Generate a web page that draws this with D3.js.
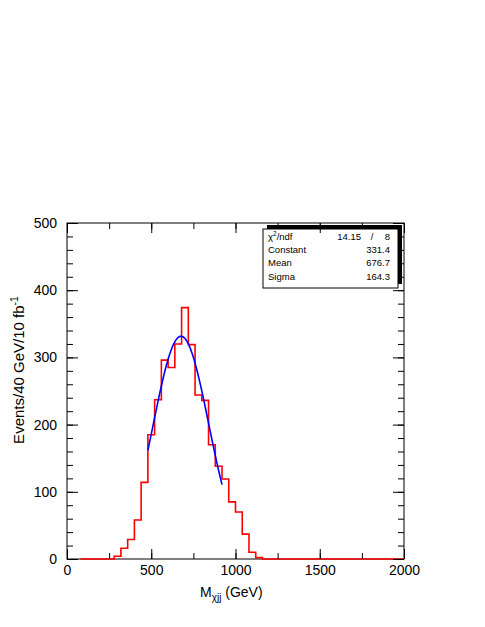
<!DOCTYPE html>
<html>
<head>
<meta charset="utf-8">
<script src="https://cdn.jsdelivr.net/npm/d3@7"></script>
<style>
  html, body { margin: 0; padding: 0; background: #ffffff; }
  svg { display: block; }
  text { font-family: "Liberation Sans", Arial, Helvetica, sans-serif; fill: #000; }
</style>
</head>
<body>
<svg id="chart" width="485" height="627"></svg>
<script>
// ---- data ----
const histLow = 80;          // first bin low edge (GeV)
const binWidth = 40;         // GeV
const binCounts = [
  0, 0, 0, 0, 0,
  4, 16, 29, 58, 114, 185, 237, 296, 285, 320, 374, 319, 244, 236, 170, 138, 119, 85, 70, 37, 10, 2,
  0, 0, 0, 0, 0, 0, 0, 0, 0, 0, 0, 0, 0, 0, 0, 0, 0, 0, 0, 0, 0
];
const fitRange = [480, 920];
const fitConstant = 331.4, fitMean = 676.7, fitSigma = 164.3;
const statLabels = ["Constant", "Mean", "Sigma"];
const statValues = ["331.4", "676.7", "164.3"];
const chi2Value = "14.15", ndfValue = "8";
const xTicks = [0, 500, 1000, 1500, 2000];
const yTicks = [0, 100, 200, 300, 400, 500];
const xDomain = [0, 2000];
const yDomain = [0, 500];

// ---- layout ----
const L = 67, R = 404, T = 223, B = 559;
const svg = d3.select("#chart");
const x = d3.scaleLinear().domain(xDomain).range([L, R]);
const y = d3.scaleLinear().domain(yDomain).range([B, T]);

const font = '"Liberation Sans", Arial, Helvetica, sans-serif';

// histogram
const pts = binCounts.map((c, i) => [histLow + i * binWidth, c]);
pts.push([histLow + binCounts.length * binWidth, binCounts[binCounts.length - 1]]);
const histLine = d3.line().x(d => x(d[0])).y(d => y(d[1])).curve(d3.curveStepAfter);

// fit curve (Gaussian from the fit parameters)
const gauss = v => fitConstant * Math.exp(-0.5 * Math.pow((v - fitMean) / fitSigma, 2));
const fitPts = d3.range(fitRange[0], fitRange[1] + 0.001, 4).map(v => [v, gauss(v)]);
const fitLine = d3.line().x(d => x(d[0])).y(d => y(d[1])).curve(d3.curveLinear);

// frame
svg.append("rect").attr("x", L).attr("y", T).attr("width", R - L).attr("height", B - T)
  .attr("fill", "none").attr("stroke", "#000").attr("stroke-width", 1);

svg.append("path").attr("d", histLine(pts)).attr("fill", "none")
  .attr("stroke", "#ff0000").attr("stroke-width", 1.6);
svg.append("path").attr("d", fitLine(fitPts)).attr("fill", "none")
  .attr("stroke", "#0000ff").attr("stroke-width", 1.6);

// stats box with shadow
const bx = 263, by = 229, bw = 135, bh = 59;
svg.append("rect").attr("x", bx + 4).attr("y", by - 4).attr("width", bw).attr("height", bh).attr("fill", "#000");
svg.append("rect").attr("x", bx).attr("y", by).attr("width", bw).attr("height", bh)
  .attr("fill", "#fff").attr("stroke", "#000").attr("stroke-width", 1);

// axes (ticks drawn inward, on all four sides)
function styleAxis(g) {
  g.select(".domain").remove();
  g.selectAll("line").attr("stroke", "#000").attr("stroke-width", 1);
  g.selectAll("text").style("font-family", font).style("font-size", "14px").attr("fill", "#000");
}
const xMinor = d3.range(0, 2001, 250);
const yMinor = d3.range(0, 501, 20);
const fmt = d3.format("d");

svg.append("g").attr("transform", `translate(0,${B})`)
  .call(d3.axisBottom(x).tickValues(xTicks).tickFormat(fmt).tickSizeInner(-10).tickSizeOuter(0).tickPadding(6))
  .call(styleAxis);
svg.append("g").attr("transform", `translate(0,${B})`)
  .call(d3.axisBottom(x).tickValues(xMinor).tickSizeInner(-6).tickSizeOuter(0).tickFormat(""))
  .call(styleAxis);
svg.append("g").attr("transform", `translate(0,${T})`)
  .call(d3.axisTop(x).tickValues(xTicks).tickSizeInner(-10).tickSizeOuter(0).tickFormat(""))
  .call(styleAxis);
svg.append("g").attr("transform", `translate(0,${T})`)
  .call(d3.axisTop(x).tickValues(xMinor).tickSizeInner(-6).tickSizeOuter(0).tickFormat(""))
  .call(styleAxis);

svg.append("g").attr("transform", `translate(${L},0)`)
  .call(d3.axisLeft(y).tickValues(yTicks).tickFormat(fmt).tickSizeInner(-11).tickSizeOuter(0).tickPadding(10))
  .call(styleAxis);
svg.append("g").attr("transform", `translate(${L},0)`)
  .call(d3.axisLeft(y).tickValues(yMinor).tickSizeInner(-6).tickSizeOuter(0).tickFormat(""))
  .call(styleAxis);
svg.append("g").attr("transform", `translate(${R},0)`)
  .call(d3.axisRight(y).tickValues(yTicks).tickSizeInner(-11).tickSizeOuter(0).tickFormat(""))
  .call(styleAxis);
svg.append("g").attr("transform", `translate(${R},0)`)
  .call(d3.axisRight(y).tickValues(yMinor).tickSizeInner(-6).tickSizeOuter(0).tickFormat(""))
  .call(styleAxis);

// stats text
const fs = 9.5;
const rowY = [239.5, 253, 266.3, 279.6];
const t0 = svg.append("text").attr("x", 268).attr("y", rowY[0]).style("font-size", fs + "px");
t0.append("tspan").text("χ");
t0.append("tspan").attr("dy", -4).style("font-size", "6.5px").text("2");
t0.append("tspan").attr("dy", 4).text("/ndf");
svg.append("text").attr("x", 361).attr("y", rowY[0]).attr("text-anchor", "end").style("font-size", fs + "px").text(chi2Value);
svg.append("text").attr("x", 372).attr("y", rowY[0]).attr("text-anchor", "middle").style("font-size", fs + "px").text("/");
svg.append("text").attr("x", 390).attr("y", rowY[0]).attr("text-anchor", "end").style("font-size", fs + "px").text(ndfValue);
statLabels.forEach((lab, i) => {
  svg.append("text").attr("x", 268).attr("y", rowY[i + 1]).style("font-size", fs + "px").text(lab);
  svg.append("text").attr("x", 390).attr("y", rowY[i + 1]).attr("text-anchor", "end").style("font-size", fs + "px").text(statValues[i]);
});

// x title
const xt = svg.append("text").attr("x", 200).attr("y", 597).style("font-size", "14px");
xt.append("tspan").text("M");
xt.append("tspan").attr("dy", 4).style("font-size", "10px").text("χjj");
xt.append("tspan").attr("dy", -4).text(" (GeV)");

// y title
const yt = svg.append("text").attr("transform", "translate(24,370) rotate(-90)")
  .attr("text-anchor", "middle").style("font-size", "15px");
yt.append("tspan").text("Events/40 GeV/10 fb");
yt.append("tspan").attr("dy", -6).style("font-size", "10.5px").text("-1");
</script>
</body>
</html>
